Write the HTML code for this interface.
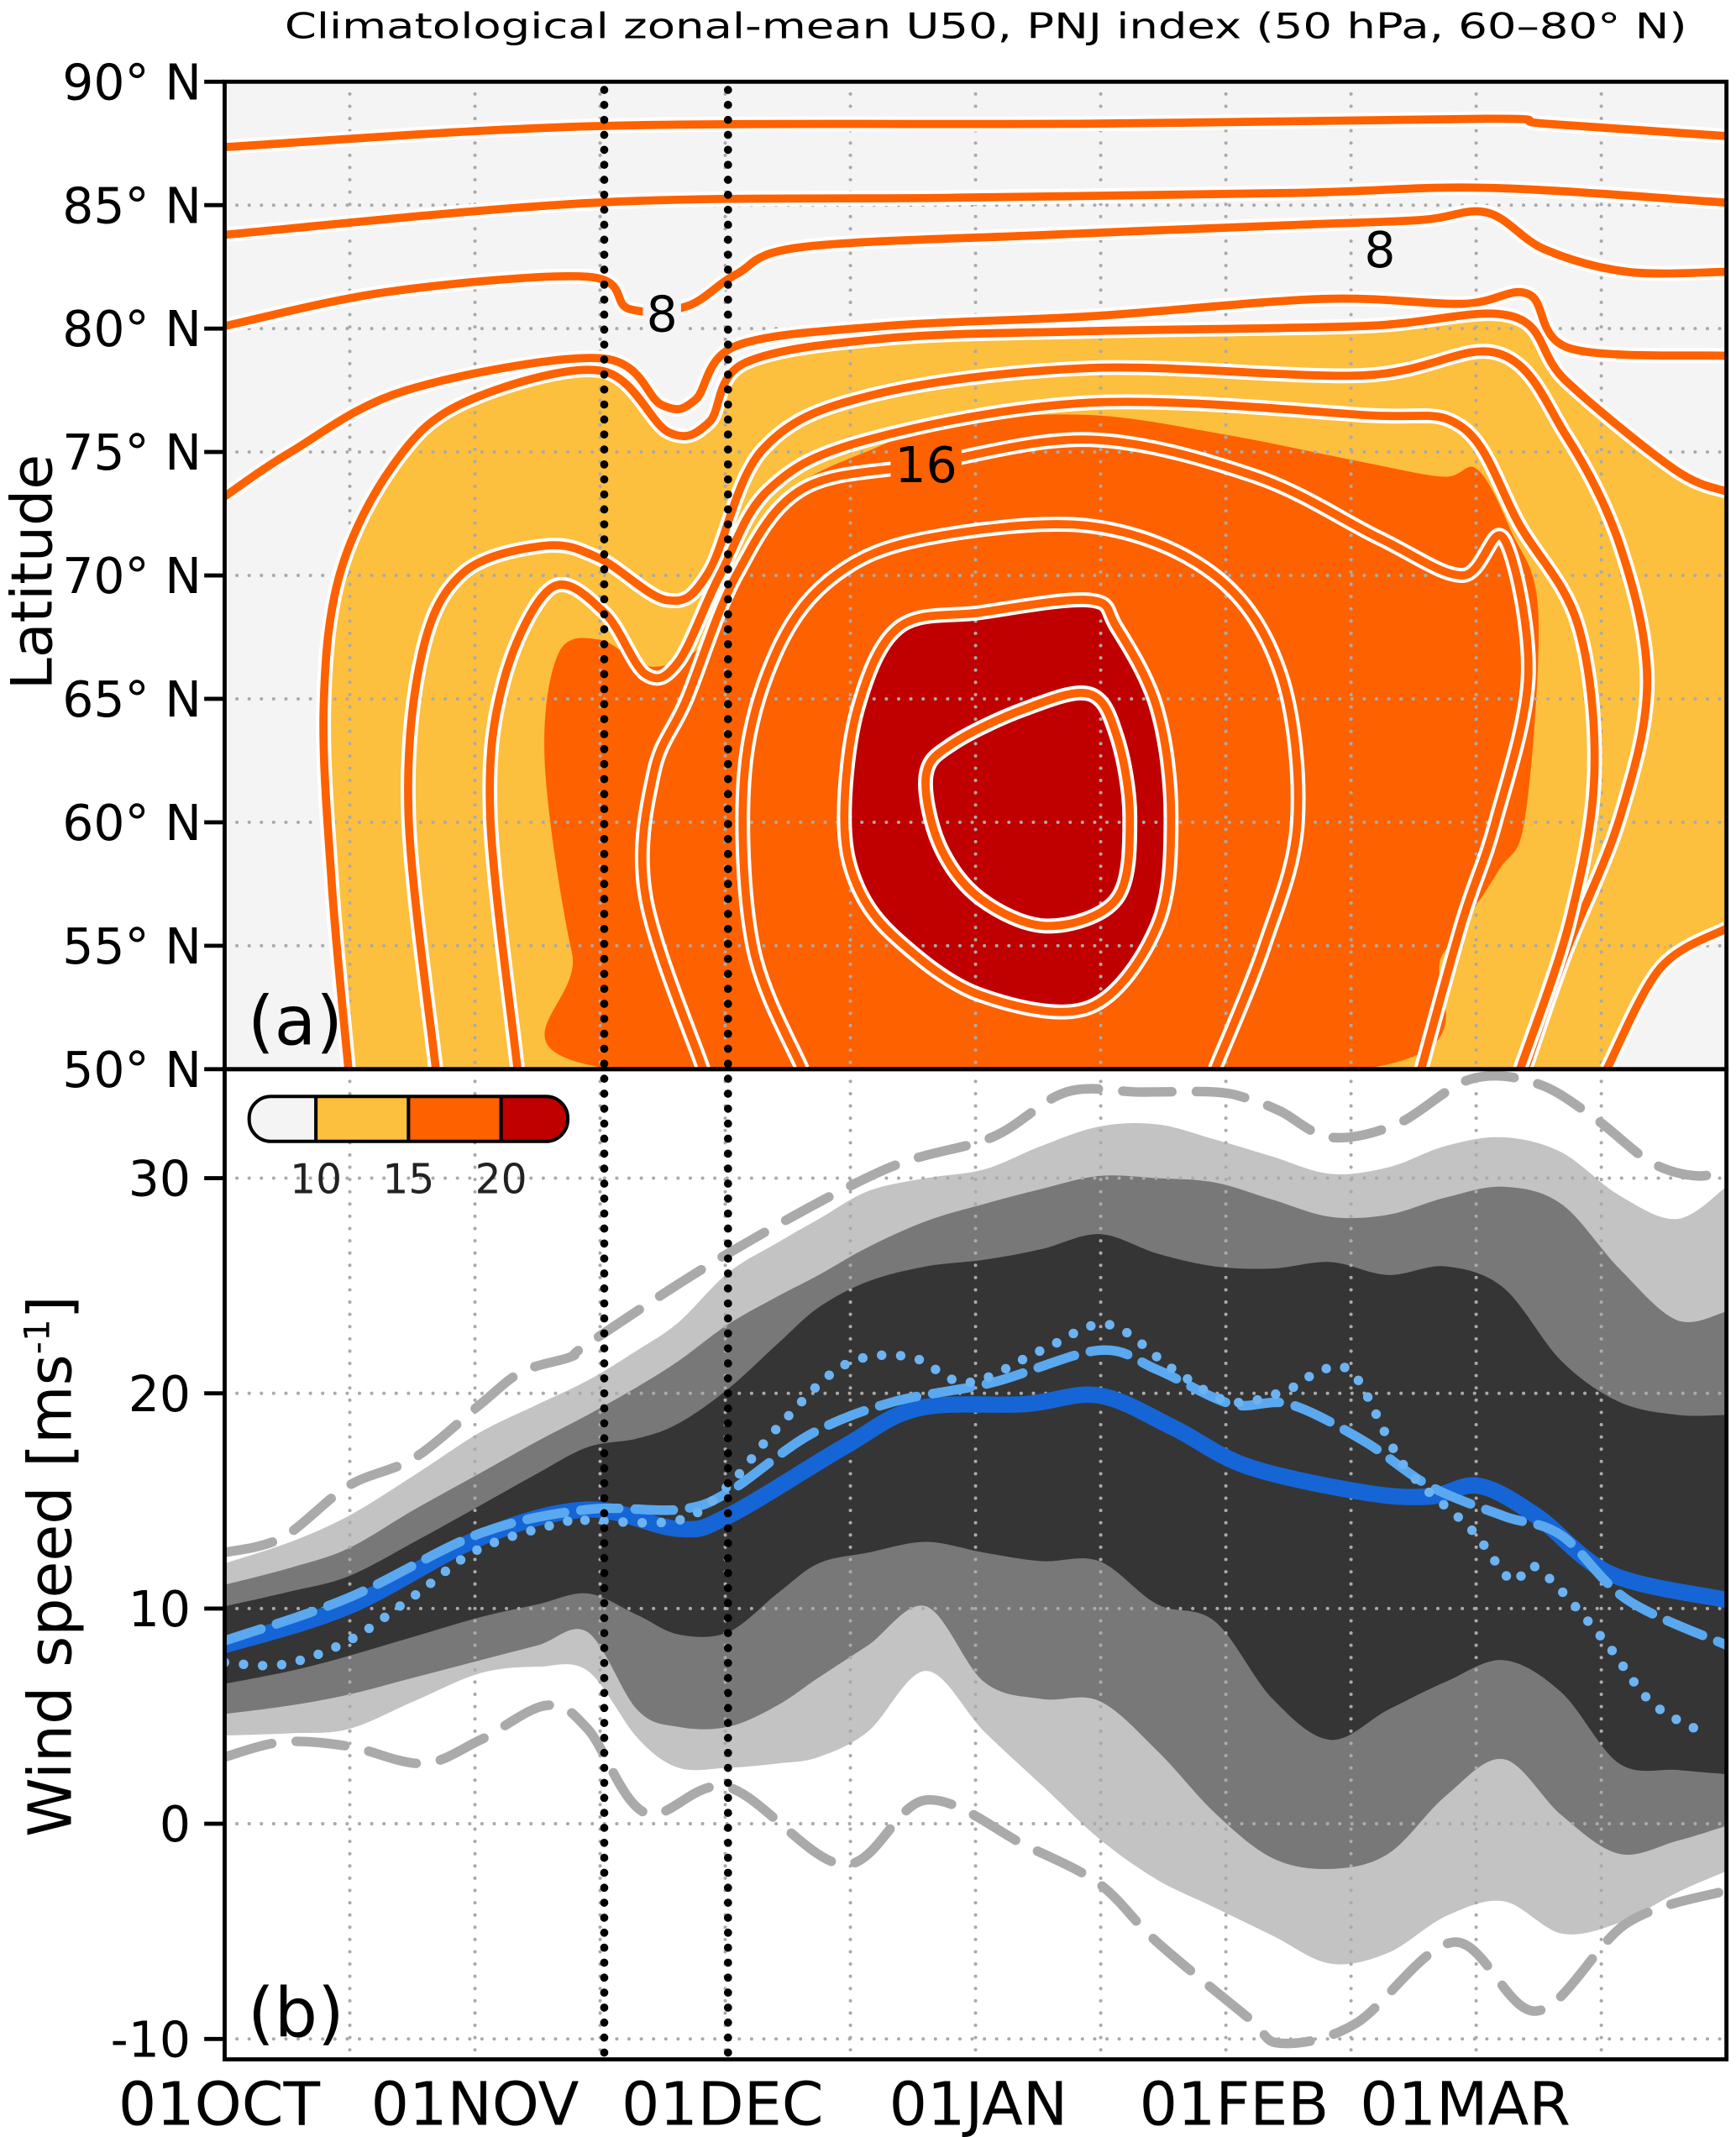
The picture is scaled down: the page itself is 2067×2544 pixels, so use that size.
<!DOCTYPE html>
<html><head><meta charset="utf-8">
<style>
html,body{margin:0;padding:0;background:#fff;}
svg{display:block;}
text{font-family:"DejaVu Sans","Liberation Sans",sans-serif;}
</style></head>
<body>
<svg id="fig" xmlns="http://www.w3.org/2000/svg" width="2067" height="2544" viewBox="0 0 1275 1569" preserveAspectRatio="none">
<defs>
<clipPath id="clipTop"><rect x="165" y="60" width="1103" height="725"/></clipPath>
<clipPath id="clipBot"><rect x="165" y="785" width="1103" height="727"/></clipPath>
<clipPath id="clipCb"><rect x="183" y="805" width="234" height="33" rx="16" ry="16"/></clipPath>
</defs>
<rect x="0" y="0" width="1275" height="1569" fill="#fff"/>
<text x="724" y="28" font-size="26" text-anchor="middle" textLength="1030" lengthAdjust="spacingAndGlyphs">Climatological zonal-mean U50, PNJ index (50 hPa, 60–80° N)</text>
<g id="topPanel"></g>
<g id="botPanel"></g>
<g id="overlay"></g>
</svg>
<script>
// ---------- Panel (a) data: contours as [day since 01OCT, latitude] ----------
const cLine2 = [[0,87.35],[45,88.2],[105,88.3],[153,88.5],[160,88.3],[182,87.8]];
const cLine4 = [[0,83.8],[45,85.1],[88,85.3],[130,85.5],[153,85.7],[182,85.1]];
const cLine6 = [[0,80.1],[20,81.5],[44,82.1],[49,80.8],[56,80.9],[62,82.2],[70,83.3],[100,83.8],[130,84.2],[145,84.4],[153,84.7],[160,83.2],[170,82.3],[182,82.3]];
const cLine8 = [[0,73.2],[8,75],[22,77.5],[45.5,78.8],[53,76.9],[57,77.1],[62,79.3],[80,80.1],[105,80.5],[133,81.2],[150,81],[158,81.4],[163,79.2],[182,78.9]];
const c10 = [[15,50],[13,57.4],[12,64.6],[14,70.1],[20.5,74.5],[29,77],[45.5,78.3],[53.8,75.8],[58.7,76.2],[63,78.6],[80,79.6],[105,79.9],[138,80.1],[156,80.5],[162.5,77.9],[175.7,74.3],[182,73.4]];
const c10b = [[182,55.7],[174,54.1],[167.5,50]];
const c12 = [[25.6,50],[22.3,60.2],[23.9,66.8],[28.9,70.1],[38.8,71.2],[45.4,70.7],[53.6,69],[58.6,70.1],[65.2,75.1],[78.4,77.3],[104.8,78.4],[137.8,78.1],[154.3,79],[162.5,75.7],[169.1,71.2],[172.4,65.7],[169.1,60.2],[162.5,54.7],[157.6,50]];
const c14 = [[35.5,50],[32.2,60.2],[33.8,65.7],[39.6,69.5],[46,68.5],[51,66],[55,66.5],[60,70],[66,73.5],[78,75.5],[105,77],[138,76.5],[150,76],[157,72],[164,68],[166,62],[163,56],[157,50]];
const orange15 = [[47,50],[42.1,54.7],[38.8,62.4],[40.4,66.8],[45.4,67.4],[52,66.3],[58.6,67.4],[61.9,70.1],[68.5,73.4],[78.4,75.1],[88.3,76.2],[104.8,76.5],[121.3,75.7],[137.8,74.6],[147.7,74],[151.8,74.3],[155.9,71.8],[159.2,68.5],[157.6,60.2],[154.3,58],[147.7,54.7],[137.8,50]];
const c16 = [[58,50],[51,57],[52,62],[56,65],[62,70],[70,73.5],[85,74.5],[105,75.5],[125,74],[140,71.5],[150,70],[155,71.5],[158,66],[154,60],[150,56],[145,50]];
const c18 = [[70,50],[64,55],[63,62],[67,67],[74,70],[85,71.5],[105,72],[120,70],[128,66],[130,60],[126,55],[120,50]];
const c20 = [[75.1,60.2],[76.7,64.6],[81.7,67.9],[91.6,68.5],[104.8,69],[108.1,67.9],[113,64.6],[114.7,60.2],[113,55.8],[104.8,52.5],[91.6,53],[81.7,55.2],[76.7,57.4]];
const c22 = [[85,61.9],[88.3,63.2],[97,64.6],[104.8,65.2],[108.1,63.5],[109.7,60.2],[108.1,56.9],[99.8,55.8],[91.6,56.9],[86.6,59.1]];
const contourLabels = [["8",53,80.6],["8",140,83.2],["16",85,74.5]];
const latTicks = [90,85,80,75,70,65,60,55,50];

// ---------- Panel (b) data ----------
const bandDays = [0,8,15,23,31,38,44,50,55,61,67,72,78,85,92,99,106,113,120,127,134,141,148,155,162,169,176,182];
const lightTop = [12.1,13.1,14.3,16.2,18.2,19.5,20.6,22,23.3,25.6,27,28.1,29.4,30,30.4,31.5,32.4,32.5,31.8,31,30.2,30.5,31.5,31.9,31.2,29.2,28.1,29.6];
const midTop   = [11.1,11.9,12.8,14.6,16.3,17.8,19,20.3,21.5,23.2,24.5,25.5,26.8,28,28.8,29.5,30.1,30,29.8,29,28.2,28.3,29.1,29.6,28.8,25.8,23.4,23.8];
const darkTop  = [10.1,10.8,11.5,13.1,14.8,16.3,17.5,17.9,18.6,20.2,22.3,24,25.2,25.9,26.2,26.7,27.4,26.5,25.9,25.8,26.1,25.5,25.9,24.9,21.5,19.6,19,19];
const darkBot  = [6.5,7.1,7.8,8.7,9.6,10.2,10.7,9.7,8.8,8.9,10.7,12.1,12.6,13.1,12.6,12.2,12.2,10.2,9.4,5.8,3.9,5.3,6.6,7.6,6.1,2.8,2.5,2.3];
const midBot   = [5.1,5.5,6,6.8,7.6,8.3,8.9,5.3,4.5,4.5,5.5,6.8,8.3,10.1,6.6,5.8,5.7,3.4,0.5,-1.6,-2.1,-1.4,1.3,3.0,0.4,-1.4,-0.8,-0.1];
const lightBot = [4.1,4.2,4.4,5.7,7,7.3,7.1,4,2.6,2.6,2.8,3.1,4.3,7.1,4.3,1.8,-0.7,-2.6,-3.9,-5.2,-6.5,-6.0,-4.3,-3.6,-5.1,-4.6,-3.2,-2.2];
const upDashDays = [0,7,15,23,31,36,42,44,61,80,93,102,111,120,124,128,134,142,151,159,166,173,179,182];
const upDashVals = [12.6,13.3,15.7,17,19.5,21,21.7,22.3,26.5,30.4,31.9,34,34,34,33.7,33.1,31.9,32.5,34.6,34.4,32.8,30.7,30.1,30.7];
const loDashDays = [0,7,15,24,31,39,44,51,61,75,85,97,106,113,124,128,137,149,159,170,182];
const loDashVals = [3.1,3.8,3.6,2.8,3.9,5.5,4.4,0.5,1.7,-1.9,1.1,-1.0,-2.8,-5.5,-9.0,-10.2,-9.3,-5.5,-8.7,-4.6,-3.1];
const medDays = [0,15,31,44,55,61,75,84,97,106,115,124,138,146,152,159,168,182];
const medVals = [8.3,10.1,13.3,14.6,13.7,14.3,17.5,19.3,19.5,19.9,18.4,16.6,15.4,15.2,15.7,14.3,11.6,10.4];
const dashBlueDays = [0,15,31,44,55,61,71,81,93,106,113,122,129,138,146,155,162,170,182];
const dashBlueVals = [8.5,10.5,13.5,14.6,14.6,15.4,18.1,19.6,20.5,22.0,21.1,19.5,19.5,17.8,15.7,14.3,13.4,10.4,8.3];
const dotDays = [0,7,15,23,31,42,44,55,61,67,75,83,90,99,107,115,122,129,133,137,143,151,156,159,167,173,180];
const dotVals = [7.5,7.4,8.5,10.6,12.8,14.1,14.1,14.1,15.7,18.4,21.3,21.7,20.5,22.0,23.2,21.1,19.6,20.2,21.1,20.8,16.6,13.7,11.3,11.9,8.6,5.6,4.1];
const windTicks = [30,20,10,0,-10];
const monthLabels = ["01OCT","01NOV","01DEC","01JAN","01FEB","01MAR"];
const monthDays = [0,31,61,92,123,151];
const eventDays = [46,61];
const cbLevels = [10,15,20];

// ---------- axes ----------
const X0=165, X1=1268, DAYS=182;
const xD = d => X0 + d*(X1-X0)/DAYS;
const yLat = l => 60 + (90-l)*725/40;
const yV = v => 1339 - 15.8*v;
const NS='http://www.w3.org/2000/svg';
function mk(parent, tag, attrs){const e=document.createElementNS(NS,tag);for(const k in attrs)e.setAttribute(k,attrs[k]);parent.appendChild(e);return e;}
function segs(p, closed){
  const n=p.length;let d='';const m=closed?n:n-1;
  for(let i=0;i<m;i++){
    const p0=closed?p[(i-1+n)%n]:p[Math.max(i-1,0)];
    const p1=p[i], p2=p[(i+1)%n];
    const p3=closed?p[(i+2)%n]:p[Math.min(i+2,n-1)];
    const c1=[p1[0]+(p2[0]-p0[0])/6,p1[1]+(p2[1]-p0[1])/6];
    const c2=[p2[0]-(p3[0]-p1[0])/6,p2[1]-(p3[1]-p1[1])/6];
    d+=` C${c1[0].toFixed(1)},${c1[1].toFixed(1)} ${c2[0].toFixed(1)},${c2[1].toFixed(1)} ${p2[0].toFixed(1)},${p2[1].toFixed(1)}`;
  }
  return d;
}
function smooth(p, closed){return `M${p[0][0].toFixed(1)},${p[0][1].toFixed(1)}`+segs(p,closed)+(closed?' Z':'');}
const toXY = arr => arr.map(q=>[xD(q[0]),yLat(q[1])]);

// ---------- Panel (a) ----------
const topG = document.getElementById('topPanel');
const tg = mk(topG,'g',{'clip-path':'url(#clipTop)'});
let el;
el=mk(tg,'rect',{x:165,y:60,width:1103,height:725,fill:'#f4f4f4'});


const p10=toXY(c10), p10b=toXY(c10b);
el=mk(tg,'path',{d:'M'+p10[0][0]+','+p10[0][1]+segs(p10,false)+' L'+p10b[0][0]+','+p10b[0][1]+segs(p10b,false)+' Z',fill:'#fdbf3e'});


el=mk(tg,'path',{d:smooth(toXY(orange15),true),fill:'#fe6100'});


el=mk(tg,'path',{d:smooth(toXY(c20),true),fill:'#c00000'});


const gridTop = mk(tg,'g',{stroke:'#aaa','stroke-width':2.5,'stroke-dasharray':'0 9','stroke-linecap':'round'});


latTicks.forEach(l=>{mk(gridTop,'line',{x1:X0,x2:X1,y1:yLat(l),y2:yLat(l)});});
for(let k=1;k<12;k++){const x=X0+k*(X1-X0)/12;mk(gridTop,'line',{x1:x,x2:x,y1:60,y2:785});}
const contourSets = [[cLine2,false,'contour-2'],[cLine4,false,'contour-4'],[cLine6,false,'contour-6'],[cLine8,false,'contour-8'],[c10,false,'contour-10'],[c10b,false,'contour-10-east'],[c12,false,'contour-12'],[c14,false,'contour-14'],[c16,false,'contour-16'],[c18,false,'contour-18'],[c20,true,'contour-20'],[c22,true,'contour-22']];
contourSets.forEach(([pts,closed,nm])=>{
  const g=mk(tg,'g',{});
  
  
  const d=smooth(toXY(pts),closed);
  mk(g,'path',{d:d,fill:'none',stroke:'#fff','stroke-width':11,'stroke-linejoin':'round'});
  mk(g,'path',{d:d,fill:'none',stroke:'#fe6100','stroke-width':6,'stroke-linejoin':'round'});
});
contourLabels.forEach(([t,d,l])=>{
  if(t!=='16'){
    const r=mk(tg,'rect',{x:xD(d)-14,y:yLat(l)-16,width:28,height:32,fill:'#f4f4f4'});
    
    
  } else {
    const r=mk(tg,'rect',{x:xD(d)-26,y:yLat(l)-14,width:52,height:28,fill:'#fe6100'});
    
    
  }
  const tx=mk(tg,'text',{x:xD(d),y:yLat(l)+13,'font-size':36,'text-anchor':'middle',fill:'#000'});
  tx.textContent=t;
  
  
});
latTicks.forEach(l=>{
  const t=mk(topG,'text',{x:148,y:yLat(l)+13,'font-size':36,'text-anchor':'end'});
  t.textContent=l+'° N';
  
  
  mk(topG,'line',{x1:150,x2:165,y1:yLat(l),y2:yLat(l),stroke:'#000','stroke-width':3});
});
el=mk(topG,'text',{x:182,y:767,'font-size':50});el.textContent='(a)';


el=mk(topG,'text',{transform:'translate(38,420) rotate(-90)','font-size':42,'text-anchor':'middle'});el.textContent='Latitude';



// ---------- Panel (b) ----------
const botG=document.getElementById('botPanel');
const bg=mk(botG,'g',{'clip-path':'url(#clipBot)'});
function band(up,lo,color,nm){
  const U=bandDays.map((d,i)=>[xD(d),yV(up[i])]);
  const L=bandDays.map((d,i)=>[xD(d),yV(lo[i])]).reverse();
  const p=mk(bg,'path',{d:smooth(U,false)+' L'+L[0][0].toFixed(1)+','+L[0][1].toFixed(1)+segs(L,false)+' Z',fill:color});
  
  
}
band(lightTop,lightBot,'#c3c3c3','band-outer');
band(midTop,midBot,'#787878','band-middle');
band(darkTop,darkBot,'#353535','band-inner');
const gridBot=mk(bg,'g',{stroke:'#aaa','stroke-width':2.5,'stroke-dasharray':'0 9','stroke-linecap':'round'});


windTicks.forEach(v=>{mk(gridBot,'line',{x1:X0,x2:X1,y1:yV(v),y2:yV(v)});});
for(let k=1;k<12;k++){const x=X0+k*(X1-X0)/12;mk(gridBot,'line',{x1:x,x2:x,y1:785,y2:1512});}
function line(days,vals,attrs,nm){
  const P=days.map((d,i)=>[xD(d),yV(vals[i])]);
  const p=mk(bg,'path',Object.assign({d:smooth(P,false),fill:'none'},attrs));
  
  
}
line(upDashDays,upDashVals,{stroke:'#aaa','stroke-width':7,'stroke-dasharray':'36 18','stroke-linecap':'round'},'upper-extreme-dashed');
line(loDashDays,loDashVals,{stroke:'#aaa','stroke-width':7,'stroke-dasharray':'36 18','stroke-linecap':'round'},'lower-extreme-dashed');
line(medDays,medVals,{stroke:'#1565d6','stroke-width':12,'stroke-linecap':'round'},'median-line');
line(dashBlueDays,dashBlueVals,{stroke:'#5aa9f0','stroke-width':7,'stroke-dasharray':'28 12','stroke-linecap':'round'},'dashed-blue-line');
line(dotDays,dotVals,{stroke:'#6db3f2','stroke-width':7,'stroke-dasharray':'0 14','stroke-linecap':'round'},'dotted-blue-line');
windTicks.forEach(v=>{
  const t=mk(botG,'text',{x:140,y:yV(v)+13,'font-size':36,'text-anchor':'end'});
  t.textContent=String(v);
  
  
  mk(botG,'line',{x1:150,x2:165,y1:yV(v),y2:yV(v),stroke:'#000','stroke-width':3});
});
monthLabels.forEach((m,i)=>{
  const t=mk(botG,'text',{x:xD(monthDays[i])-4,y:1560,'font-size':44,'text-anchor':'middle'});
  t.textContent=m;
  
  
});
el=mk(botG,'text',{x:182,y:1495,'font-size':50});el.textContent='(b)';


el=mk(botG,'text',{transform:'translate(52,1150) rotate(-90)','font-size':44,'text-anchor':'middle'});
el.textContent='Wind speed [ms';
const sup=mk(el,'tspan',{'font-size':26,dy:-16});sup.textContent='-1';
const cl=mk(el,'tspan',{dy:16});cl.textContent=']';



const cb=mk(botG,'g',{});


const cbc=mk(cb,'g',{'clip-path':'url(#clipCb)'});
const cbx = v => 232 + (v-10)*13.6;
mk(cbc,'rect',{x:183,y:805,width:cbx(10)-183,height:33,fill:'#f4f4f4'});
mk(cbc,'rect',{x:cbx(10),y:805,width:cbx(15)-cbx(10),height:33,fill:'#fdbf3e'});
mk(cbc,'rect',{x:cbx(15),y:805,width:cbx(20)-cbx(15),height:33,fill:'#fe6100'});
mk(cbc,'rect',{x:cbx(20),y:805,width:417-cbx(20),height:33,fill:'#c00000'});
cbLevels.forEach(v=>{mk(cbc,'line',{x1:cbx(v),x2:cbx(v),y1:805,y2:838,stroke:'#000','stroke-width':2.5});});
mk(cb,'rect',{x:183,y:805,width:234,height:33,rx:16,ry:16,fill:'none',stroke:'#000','stroke-width':2.5});
cbLevels.forEach(v=>{
  const t=mk(cb,'text',{x:cbx(v),y:876,'font-size':30,'text-anchor':'middle',fill:'#222'});
  t.textContent=String(v);
  
  
});

const ov=document.getElementById('overlay');
eventDays.forEach(d=>{
  const l=mk(ov,'line',{x1:xD(d),x2:xD(d),y1:66,y2:1512,stroke:'#000','stroke-width':6,'stroke-dasharray':'0 11','stroke-linecap':'round'});
  
  
});
el=mk(ov,'rect',{x:165,y:60,width:1103,height:725,fill:'none',stroke:'#000','stroke-width':3});


el=mk(ov,'rect',{x:165,y:785,width:1103,height:727,fill:'none',stroke:'#000','stroke-width':3});


</script>
</body></html>
